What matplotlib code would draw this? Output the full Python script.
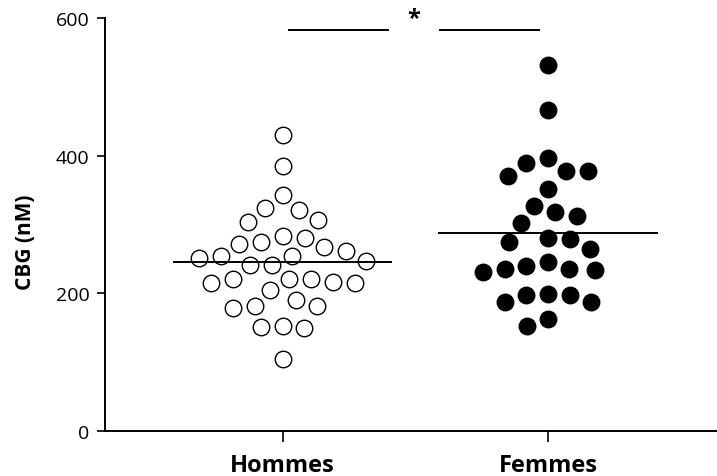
import numpy as np
import matplotlib
matplotlib.use("Agg")
import matplotlib.pyplot as plt

plt.rcParams['font.family'] = ['Open Sans', 'DejaVu Sans']

# CBG values (nM)
groups = ["Hommes", "Femmes"]
hommes = [430, 385, 343, 324, 321, 303, 307, 281, 283, 274,
          267, 272, 261, 254, 252, 254, 247, 241, 241, 221,
          217, 215, 215, 221, 221, 205, 182, 178, 191, 181,
          151, 150, 153, 104]
femmes = [531, 466, 396, 389, 377, 371, 377, 352, 327, 318,
          313, 302, 281, 275, 279, 265, 239, 235, 231, 234,
          235, 246, 198, 188, 187, 197, 199, 163, 152]
yticks = [0, 200, 400, 600]
p_label = "*"


def swarm_offsets(ax, xc, vals, d):
    # greedy beeswarm in pixel space, returns data x positions
    tr = ax.transData
    pts = tr.transform(np.column_stack([np.full(len(vals), xc), vals]))
    x0 = pts[0, 0]
    ys = pts[:, 1]
    order = np.argsort(ys)[::-1]
    placed = []
    xs = np.zeros(len(vals))
    for i in order:
        y = ys[i]
        cands = [0.0]
        for (px, py) in placed:
            dy = abs(py - y)
            if dy < d:
                dx = np.sqrt(d * d - dy * dy) + 0.01
                cands += [px + dx, px - dx]
        cands.sort(key=lambda c: (abs(c), c))
        for c in cands:
            ok = True
            for (px, py) in placed:
                if (px - c) ** 2 + (py - y) ** 2 < d * d - 0.01:
                    ok = False
                    break
            if ok:
                break
        placed.append((c, y))
        xs[i] = c
    inv = tr.inverted()
    back = inv.transform(np.column_stack([x0 + xs, ys]))
    return back[:, 0]


fig = plt.figure(figsize=(7.17, 4.77), dpi=100)
ax = fig.add_axes([105 / 717, 45 / 477, 612 / 717, 413 / 477])
ax.set_xlim(0.331, 2.637)
ax.set_ylim(0, 600)

diam = 22
msize = (16.5 * 72 / 100) ** 2

xh = swarm_offsets(ax, 1, hommes, diam)
xf = swarm_offsets(ax, 2, femmes, diam)
ax.scatter(xh, hommes, s=msize, facecolors='white', edgecolors='black',
           linewidths=1.0, zorder=3, clip_on=False)
ax.scatter(xf, femmes, s=msize, facecolors='black', edgecolors='black',
           linewidths=1.0, zorder=3, clip_on=False)

# mean lines
ax.hlines(np.mean(hommes), 1 - 0.414, 1 + 0.414, color='black', lw=1.4, zorder=4)
ax.hlines(np.mean(femmes), 2 - 0.414, 2 + 0.414, color='black', lw=1.4, zorder=4)

# significance bar
ax.hlines(583, 1.02, 1.40, color='black', lw=1.4, clip_on=False)
ax.hlines(583, 1.59, 1.97, color='black', lw=1.4, clip_on=False)
ax.text(1.495, 600, p_label, ha='center', va='center', fontsize=17,
        fontweight='bold', clip_on=False)

ax.set_xticks([1, 2])
ax.set_xticklabels(groups, fontsize=17, fontweight='bold')
ax.set_yticks(yticks)
ax.set_yticklabels([str(v) for v in yticks], fontsize=14)
ax.set_ylabel("CBG (nM)", fontsize=15, fontweight='bold')
ax.yaxis.set_label_coords(-0.112, 0.46)

for s in ['top', 'right']:
    ax.spines[s].set_visible(False)
for s in ['left', 'bottom']:
    ax.spines[s].set_linewidth(1.4)
ax.tick_params(axis='y', length=6, width=1.2, pad=5)
ax.tick_params(axis='x', length=8, width=1.2, pad=8)

fig.savefig("out.png", dpi=100)
